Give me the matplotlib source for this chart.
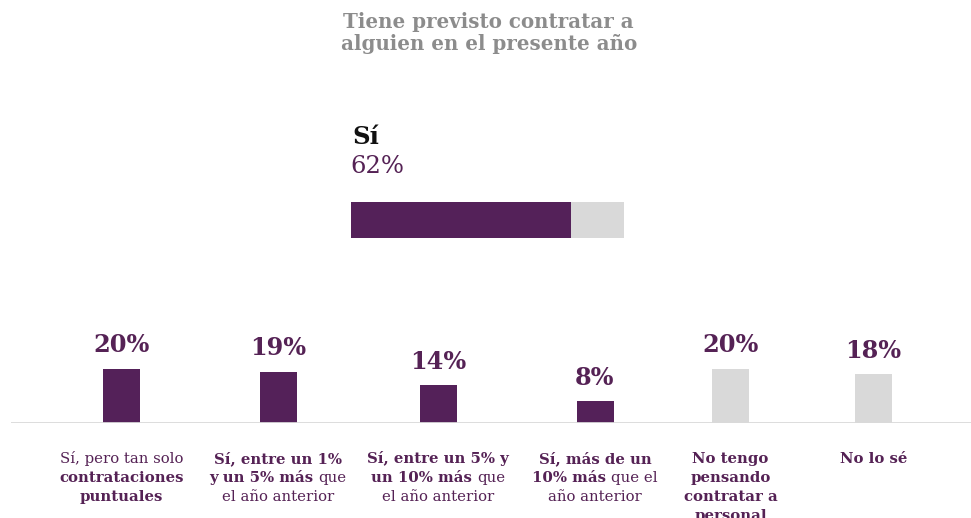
import matplotlib
matplotlib.use("Agg")
import matplotlib.pyplot as plt

# data
title = "Tiene previsto contratar a\nalguien en el presente año"
si_label = "Sí"
si_value = 62
si_scale_max = 77

values = [20, 19, 14, 8, 20, 18]
highlight = [True, True, True, True, False, False]
# each label: list of lines, each line a list of (text, weight) words
labels = [
    [[("Sí, pero tan solo", "normal")],
     [("contrataciones", "bold")],
     [("puntuales", "bold")]],
    [[("Sí, entre un 1%", "bold")],
     [("y un 5% más", "bold"), ("que", "normal")],
     [("el año anterior", "normal")]],
    [[("Sí, entre un 5% y", "bold")],
     [("un 10% más", "bold"), ("que", "normal")],
     [("el año anterior", "normal")]],
    [[("Sí, más de un", "bold")],
     [("10% más", "bold"), ("que el", "normal")],
     [("año anterior", "normal")]],
    [[("No tengo", "bold")],
     [("pensando", "bold")],
     [("contratar a", "bold")],
     [("personal", "bold")]],
    [[("No lo sé", "bold")]],
]

# layout / style
W, H = 971, 518
bar_x = [121.5, 278, 438, 595, 730.5, 873.5]
PURPLE = "#542159"
GRAY = "#d9d9d9"
TEXT_PURPLE = "#552255"
FONT = "DejaVu Serif"

plt.rcParams["font.family"] = FONT

fig = plt.figure(figsize=(W / 100, H / 100), dpi=100)


def fx(px):
    return px / W


def fy(py):
    return 1 - py / H


# title
t1, t2 = title.split("\n")
fig.text(fx(488), fy(28), t1, ha="center", va="baseline",
         fontsize=14.3, weight="bold", color="#8c8c8c")
fig.text(fx(489), fy(50), t2, ha="center", va="baseline",
         fontsize=14.3, weight="bold", color="#8c8c8c")

# top summary bar
ax_top = fig.add_axes([fx(351), fy(238), fx(273), 36 / H])
ax_top.barh(0, si_value, height=1, color=PURPLE, align="edge")
ax_top.barh(0, si_scale_max - si_value, left=si_value, height=1, color=GRAY, align="edge")
ax_top.set_xlim(0, si_scale_max)
ax_top.set_ylim(0, 1)
ax_top.axis("off")

fig.text(fx(352), fy(144), si_label, ha="left", va="baseline",
         fontsize=17.5, weight="bold", color="#111111")
fig.text(fx(350), fy(173), f"{si_value}%", ha="left", va="baseline",
         fontsize=17.5, color=TEXT_PURPLE)

# bar chart
ax = fig.add_axes([fx(11), fy(423), fx(960), 108 / H])
colors = [PURPLE if h else GRAY for h in highlight]
ax.bar(bar_x, values, width=37, color=colors)
ax.set_xlim(11, 971)
ax.set_ylim(0, 40)
ax.axhline(0, color=GRAY, lw=2, zorder=3)
for s in ax.spines.values():
    s.set_visible(False)
ax.set_xticks([])
ax.set_yticks([])

for x, v in zip(bar_x, values):
    ax.annotate(f"{v}%", (x, v), xytext=(0, 12), textcoords="offset points",
                ha="center", va="baseline", fontsize=17.3, weight="bold",
                color=TEXT_PURPLE)

# category labels with mixed weights
renderer = fig.canvas.get_renderer()
LABEL_SIZE = 10.7


def text_width(s, weight):
    t = fig.text(0, 0, s, fontsize=LABEL_SIZE, weight=weight)
    w = t.get_window_extent(renderer).width
    t.remove()
    return w


space = text_width("x x", "normal") - text_width("xx", "normal")

for x, lines in zip(bar_x, labels):
    cx = ax.transData.transform((x, 0))[0]
    for i, segs in enumerate(lines):
        py = 463 + i * 19
        texts = [fig.text(0, fy(py), s, fontsize=LABEL_SIZE, weight=w,
                          color=TEXT_PURPLE, ha="left", va="baseline")
                 for s, w in segs]
        widths = [t.get_window_extent(renderer).width for t in texts]
        total = sum(widths) + space * (len(texts) - 1)
        x0 = cx - total / 2
        for t, w in zip(texts, widths):
            t.set_x(x0 / W)
            x0 += w + space

fig.savefig("out.png", dpi=100)
